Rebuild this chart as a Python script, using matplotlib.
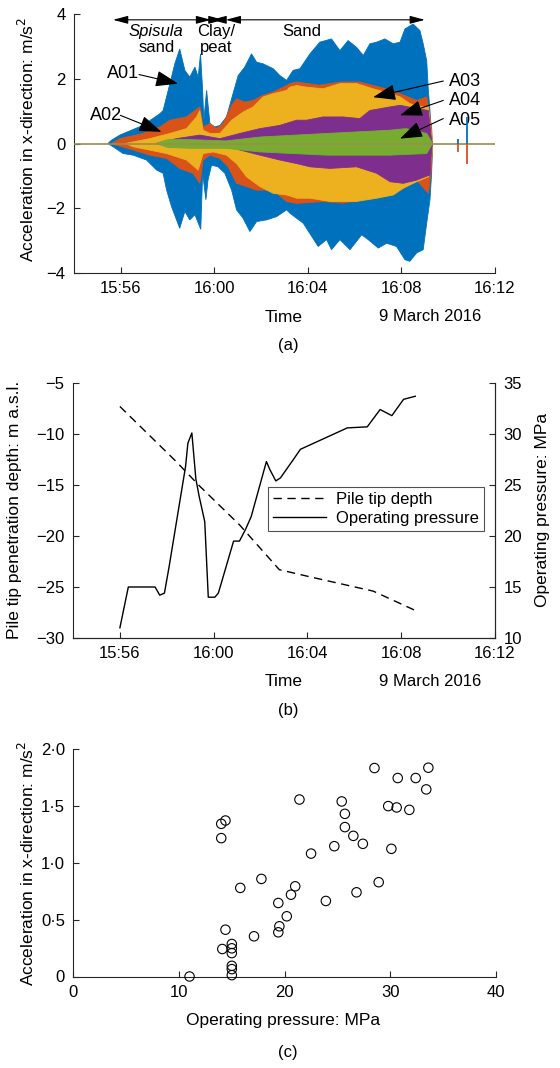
import matplotlib
matplotlib.use("Agg")
import matplotlib.pyplot as plt
import numpy as np

plt.rcParams['font.family'] = ['Liberation Sans', 'DejaVu Sans']
plt.rcParams['font.size'] = 12
plt.rcParams['axes.linewidth'] = 0.8

# ---------------- data (a): envelopes of acceleration, time in minutes after 15:00 ----------------
a01_up_t = [55.45, 55.60, 55.96, 56.95, 57.67, 57.81, 58.10, 58.31, 58.52, 58.74, 58.95, 59.17, 59.31, 59.41,
            59.50, 59.55, 59.67, 59.81, 60.02, 60.24, 60.52, 60.80, 61.02, 61.30, 61.59, 61.81, 62.09, 62.52,
            62.80, 63.09, 63.37, 63.66, 64.09, 64.51, 65.01, 65.37, 65.72, 66.08, 66.37, 66.65, 66.94, 67.29,
            67.65, 67.94, 68.15, 68.50, 68.79, 68.93, 69.08, 69.15, 69.22, 69.29, 69.33]
a01_up_v = [0, 0.10, 0.26, 0.56, 0.92, 1.02, 1.85, 2.46, 2.92, 2.26, 2.05, 2.36, 2.05, 2.77,
            1.64, 0.72, 1.64, 0.62, 0.51, 0.56, 0.82, 1.54, 2.10, 2.36, 2.77, 2.51, 2.46, 2.31,
            2.10, 1.95, 2.26, 2.31, 2.77, 3.13, 3.23, 2.87, 3.18, 2.97, 2.72, 3.08, 3.13, 3.23,
            3.08, 3.13, 3.54, 3.69, 3.49, 3.08, 2.56, 1.64, 1.02, 0.10, 0]
a01_lo_t = [55.45, 55.67, 56.10, 56.53, 57.10, 57.53, 57.81, 57.96, 58.17, 58.52, 58.74, 58.95, 59.17, 59.42,
            59.50, 59.64, 59.73, 59.88, 60.16, 60.45, 60.74, 60.95, 61.23, 61.52, 61.81, 62.23, 62.66, 63.09,
            63.23, 63.52, 63.80, 64.44, 64.80, 65.01, 65.37, 65.80, 66.30, 66.58, 67.01, 67.37, 67.79, 68.15,
            68.36, 68.65, 68.93, 69.08, 69.22, 69.29, 69.33]
a01_lo_v = [0, -0.10, -0.31, -0.36, -0.51, -0.82, -0.92, -1.44, -1.95, -2.62, -2.10, -2.36, -2.20, -2.65,
            -0.92, -1.74, -1.13, -0.67, -0.72, -0.92, -1.44, -2.05, -2.31, -2.72, -2.41, -2.36, -2.26, -2.05,
            -2.15, -2.31, -2.46, -3.18, -2.97, -3.28, -2.97, -3.28, -2.82, -2.97, -3.23, -3.08, -3.18, -3.59,
            -3.64, -3.38, -3.28, -2.46, -1.74, -0.92, 0]

a02_up_t = [55.60, 55.96, 56.95, 57.67, 58.10, 58.81, 59.17, 59.38, 59.52, 59.81, 60.09, 60.38, 60.74, 60.95,
            61.30, 61.66, 62.09, 62.52, 63.09, 63.23, 63.52, 64.50, 65.40, 66.20, 67.08, 67.94, 68.65, 69.08,
            69.29, 69.33]
a02_up_v = [0, 0.15, 0.31, 0.51, 0.72, 0.82, 1.02, 1.13, 0.51, 0.62, 0.46, 0.62, 1.18, 1.38,
            1.28, 1.33, 1.49, 1.59, 1.79, 1.85, 1.90, 1.80, 1.90, 1.90, 1.74, 1.54, 1.33, 1.44,
            0.51, 0]
a02_lo_t = [55.60, 55.82, 56.53, 57.24, 57.96, 58.52, 59.09, 59.38, 59.52, 59.81, 60.24, 60.59, 60.95, 61.38,
            61.81, 62.52, 63.09, 63.52, 64.65, 65.50, 67.08, 67.94, 68.65, 69.15, 69.29, 69.33]
a02_lo_v = [0, -0.05, -0.20, -0.36, -0.46, -0.77, -0.92, -1.23, -0.51, -0.36, -0.46, -0.72, -1.23, -1.33,
            -1.44, -1.44, -1.79, -1.85, -1.79, -1.84, -1.64, -1.44, -1.13, -1.54, -0.72, 0]

a03_up_t = [56.20, 57.24, 58.10, 58.81, 59.24, 59.38, 59.52, 59.81, 60.24, 60.74, 61.23, 61.66, 62.09, 62.52,
            63.09, 63.23, 63.52, 63.94, 64.65, 65.37, 66.08, 66.79, 67.51, 67.94, 68.36, 68.93, 69.15, 69.29, 69.33]
a03_up_v = [0, 0.15, 0.31, 0.46, 0.82, 1.02, 0.41, 0.31, 0.31, 0.72, 0.97, 1.13, 1.44, 1.54,
            1.64, 1.74, 1.79, 1.74, 1.69, 1.85, 1.85, 1.69, 1.54, 1.44, 1.23, 1.13, 1.13, 0.20, 0]
a03_lo_t = [56.20, 56.53, 57.96, 58.81, 59.31, 59.52, 59.95, 60.52, 60.95, 61.38, 61.95, 62.52, 63.09, 63.52,
            64.09, 64.94, 66.08, 66.94, 67.65, 68.08, 68.65, 69.15, 69.29, 69.33]
a03_lo_v = [0, -0.10, -0.31, -0.51, -0.82, -0.31, -0.26, -0.36, -0.62, -1.03, -1.33, -1.54, -1.59, -1.69,
            -1.69, -1.79, -1.79, -1.69, -1.59, -1.38, -1.18, -1.03, -0.41, 0]

a04_up_t = [57.50, 58.38, 59.38, 60.24, 61.09, 61.95, 62.80, 63.52, 63.94, 64.65, 65.51, 66.22, 66.65, 67.51,
            67.94, 68.65, 69.15, 69.29, 69.33]
a04_up_v = [0, 0.15, 0.26, 0.15, 0.31, 0.46, 0.56, 0.72, 0.72, 0.82, 0.82, 0.77, 1.02, 1.13,
            1.18, 1.08, 1.02, 0.10, 0]
a04_lo_t = [57.50, 59.38, 60.52, 61.09, 61.95, 62.80, 63.52, 64.09, 64.94, 66.08, 66.94, 67.51, 68.08, 68.65,
            69.22, 69.29, 69.33]
a04_lo_v = [0, -0.05, -0.05, -0.20, -0.36, -0.51, -0.62, -0.72, -0.77, -0.72, -0.92, -1.18, -1.23, -1.13,
            -0.97, -0.20, 0]

a05_up_t = [57.50, 58.00, 59.00, 60.50, 61.95, 64.80, 67.50, 68.20, 69.08, 69.29, 69.33]
a05_up_v = [0, 0.12, 0.12, 0.08, 0.20, 0.31, 0.41, 0.46, 0.31, 0.05, 0]
a05_lo_t = [57.50, 58.00, 59.00, 60.50, 61.95, 64.80, 67.50, 69.08, 69.29, 69.33]
a05_lo_v = [0, -0.12, -0.15, -0.15, -0.26, -0.36, -0.36, -0.31, -0.05, 0]

spike_t = [70.42, 70.79]
spike_blue = [0.15, 0.82]
spike_orange = [-0.25, -0.62]

# ---------------- data (b) ----------------
depth_t = [56.0, 58.4, 59.4, 61.1, 62.8, 64.1, 66.8, 68.6]
depth_m = [-7.3, -12.7, -15.1, -18.9, -23.3, -24.0, -25.4, -27.3]
press_t = [56.0, 56.36, 57.5, 57.7, 57.9, 58.1, 58.5, 58.8, 58.9, 59.07, 59.24, 59.38, 59.62, 59.77, 60.05,
           60.2, 60.85, 61.1, 61.35, 61.6, 62.25, 62.4, 62.65, 62.85, 63.4, 63.7, 65.7, 66.55, 67.1, 67.6,
           68.1, 68.6]
press_mpa = [11.0, 15.0, 15.0, 14.2, 14.4, 17.0, 22.6, 26.8, 29.1, 30.1, 25.6, 23.9, 21.4, 14.0, 14.0,
             14.4, 19.5, 19.5, 20.6, 21.9, 27.3, 26.5, 25.4, 25.7, 27.5, 28.5, 30.6, 30.7, 32.4, 31.8,
             33.4, 33.7]

# ---------------- data (c) ----------------
scat_p = [28.5, 30.7, 32.4, 33.6, 33.4, 21.4, 25.4, 25.7, 29.8, 30.6, 31.8, 14.0, 14.4, 14.0, 25.7, 26.5,
          27.4, 24.7, 30.1, 22.5, 17.8, 15.8, 21.0, 28.9, 20.6, 26.8, 23.9, 19.4, 20.2, 19.5, 19.4, 14.4,
          17.1, 15.0, 14.1, 15.0, 15.0, 15.0, 15.0, 15.0, 11.0]
scat_a = [1.835, 1.747, 1.747, 1.838, 1.647, 1.558, 1.541, 1.432, 1.50, 1.488, 1.467, 1.344, 1.373, 1.218,
          1.315, 1.238, 1.168, 1.147, 1.124, 1.082, 0.859, 0.78, 0.794, 0.83, 0.72, 0.741, 0.665, 0.647,
          0.53, 0.442, 0.389, 0.412, 0.354, 0.286, 0.242, 0.248, 0.206, 0.094, 0.065, 0.012, 0.0]

time_ticks = [56, 60, 64, 68, 72]
time_labels = ['15:56', '16:00', '16:04', '16:08', '16:12']

C_BLUE, C_ORANGE, C_YELLOW, C_PURPLE, C_GREEN = '#0072BD', '#D95319', '#EDB120', '#7E2F8E', '#77AC30'
AX_COL = '#262626'

W, H = 560, 1068
fig = plt.figure(figsize=(W / 100, H / 100), dpi=100)


def fx(x):
    return x / W


def fy(y):
    return 1 - y / H


def add_axes(l, t, r, b):
    return fig.add_axes([fx(l), fy(b), fx(r) - fx(l), fy(t) - fy(b)])


def style(ax, right=False):
    ax.spines['top'].set_visible(False)
    if not right:
        ax.spines['right'].set_visible(False)
    for s in ax.spines.values():
        s.set_color(AX_COL)
        s.set_linewidth(0.8)
    ax.tick_params(direction='in', length=4, width=0.8, colors=AX_COL, labelcolor='black', labelsize=12, pad=6)


# ---------------- panel (a) ----------------
axA = add_axes(74, 14, 495, 273)
style(axA)
envs = [(a01_up_t, a01_up_v, a01_lo_t, a01_lo_v, C_BLUE),
        (a02_up_t, a02_up_v, a02_lo_t, a02_lo_v, C_ORANGE),
        (a03_up_t, a03_up_v, a03_lo_t, a03_lo_v, C_YELLOW),
        (a04_up_t, a04_up_v, a04_lo_t, a04_lo_v, C_PURPLE),
        (a05_up_t, a05_up_v, a05_lo_t, a05_lo_v, C_GREEN)]
for ut, uv, lt, lv, c in envs:
    xs = list(ut) + list(lt[::-1])
    ys = list(uv) + list(lv[::-1])
    axA.fill(xs, ys, color=c, lw=0.6, ec=c)
axA.plot([54, 72], [0, 0], color='#9a8c4e', lw=1.2, zorder=3)
axA.vlines(spike_t, 0, spike_blue, color=C_BLUE, lw=1.3, zorder=4)
axA.vlines(spike_t, spike_orange, 0, color=C_ORANGE, lw=1.3, zorder=4)
axA.set_xlim(54, 72)
axA.set_ylim(-4, 4)
axA.set_xticks(time_ticks)
axA.set_xticklabels(time_labels)
axA.set_yticks([-4, -2, 0, 2, 4])

# region arrows
ya = 3.82
for (x0, x1) in [(55.67, 59.86), (59.88, 60.39), (60.49, 69.0)]:
    axA.annotate('', xy=(x1, ya), xytext=(x0, ya),
                 arrowprops=dict(arrowstyle='<|-|>,head_length=0.45,head_width=0.12', color='black',
                                 lw=0.8, shrinkA=0, shrinkB=0, mutation_scale=20))
axA.text(57.52, 3.45, 'Spisula', style='italic', ha='center', va='center', fontsize=12)
axA.text(57.52, 2.95, 'sand', ha='center', va='center', fontsize=12)
axA.text(60.09, 3.45, 'Clay/', ha='center', va='center', fontsize=12)
axA.text(60.09, 2.95, 'peat', ha='center', va='center', fontsize=12)
axA.text(63.73, 3.45, 'Sand', ha='center', va='center', fontsize=12)

labels = [('A01', (56.10, 2.16), (56.78, 2.13), (58.45, 1.85), 'right'),
          ('A02', (55.39, 0.87), (55.98, 0.87), (57.74, 0.36), 'right'),
          ('A03', (70.72, 1.90), (69.79, 1.93), (66.79, 1.43), 'left'),
          ('A04', (70.72, 1.33), (69.79, 1.33), (67.94, 0.87), 'left'),
          ('A05', (70.72, 0.72), (69.79, 0.77), (67.94, 0.15), 'left')]
for name, tpos, start, tip, side in labels:
    axA.text(tpos[0], tpos[1], name, ha='center', va='center', fontsize=13)
    axA.annotate('', xy=tip, xytext=start,
                 arrowprops=dict(arrowstyle='-|>,head_length=0.7,head_width=0.25', color='black',
                                 lw=0.8, shrinkA=0, shrinkB=0, mutation_scale=20))

fig.text(fx(27), fy(139), 'Acceleration in x-direction: m/s$^2$', rotation=90, ha='center', va='center',
         fontsize=12.5)
fig.text(fx(284), fy(317), 'Time', ha='center', va='center', fontsize=12.5)
fig.text(fx(430), fy(316), '9 March 2016', ha='center', va='center', fontsize=12)
fig.text(fx(288), fy(345), '(a)', ha='center', va='center', fontsize=12)

# ---------------- panel (b) ----------------
axB = add_axes(73, 383, 495, 638)
style(axB, right=True)
axB.plot(depth_t, depth_m, color='black', lw=1.0, ls=(0, (6, 4)), label='Pile tip depth')
axB.set_xlim(54, 72)
axB.set_ylim(-30, -5)
axB.set_yticks([-30, -25, -20, -15, -10, -5])
axB.set_xticks(time_ticks)
axB.set_xticklabels(time_labels)
axB2 = axB.twinx()
style(axB2, right=True)
axB2.spines['left'].set_visible(False)
axB2.plot(press_t, press_mpa, color='black', lw=1.0, label='Operating pressure')
axB2.set_ylim(10, 35)
axB2.set_yticks([10, 15, 20, 25, 30, 35])
h1, l1 = axB.get_legend_handles_labels()
h2, l2 = axB2.get_legend_handles_labels()
leg = axB2.legend(h1 + h2, l1 + l2, loc='upper left', bbox_to_anchor=(0.462, 0.593), fontsize=12,
                  frameon=True, fancybox=False, edgecolor=AX_COL, handlelength=3.2, borderpad=0.3,
                  labelspacing=0.25, handletextpad=0.6, borderaxespad=0)
leg.get_frame().set_linewidth(0.8)
fig.text(fx(15), fy(510), 'Pile tip penetration depth: m a.s.l.', rotation=90, ha='center', va='center',
         fontsize=12.5)
fig.text(fx(542), fy(510), 'Operating pressure: MPa', rotation=90, ha='center', va='center', fontsize=12.5)
fig.text(fx(284), fy(682), 'Time', ha='center', va='center', fontsize=12.5)
fig.text(fx(430), fy(681), '9 March 2016', ha='center', va='center', fontsize=12)
fig.text(fx(288), fy(711), '(b)', ha='center', va='center', fontsize=12)

# ---------------- panel (c) ----------------
axC = add_axes(73.3, 749.3, 496, 976.5)
style(axC)
axC.scatter(scat_p, scat_a, s=46, facecolors='none', edgecolors='black', linewidths=0.8, clip_on=False,
            zorder=3)
axC.set_xlim(0, 40)
axC.set_ylim(0, 2)
axC.set_xticks([0, 10, 20, 30, 40])
axC.set_yticks([0, 0.5, 1.0, 1.5, 2.0])
axC.set_yticklabels(['0', '0·5', '1·0', '1·5', '2·0'])
fig.text(fx(27), fy(863), 'Acceleration in x-direction: m/s$^2$', rotation=90, ha='center', va='center',
         fontsize=12.5)
fig.text(fx(283), fy(1020), 'Operating pressure: MPa', ha='center', va='center', fontsize=12.5)
fig.text(fx(288), fy(1052), '(c)', ha='center', va='center', fontsize=12)

fig.savefig('out.png', dpi=100)
